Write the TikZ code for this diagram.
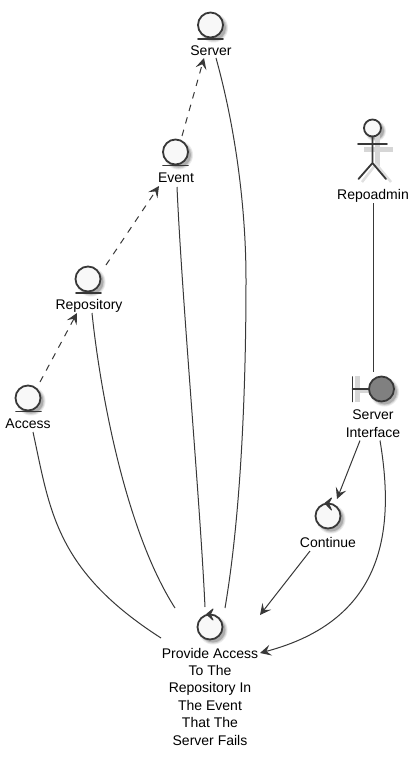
\documentclass[tikz,border=0pt]{standalone}
\usepackage{fontspec}
\setmainfont{Liberation Sans}
\usetikzlibrary{arrows.meta,shapes.geometric}
\definecolor{ink}{HTML}{383838}
\definecolor{paper}{HTML}{F8F8F8}
\definecolor{bfill}{HTML}{808080}
\tikzset{
  x=1pt,y=-1pt,
  caption/.style={font=\fontsize{14}{17.4}\selectfont,text=black,inner sep=0pt,align=center},
  disc/.style={circle,draw=ink,line width=1.8pt,fill=paper,minimum size=25pt,inner sep=0pt},
  darkdisc/.style={disc,fill=bfill},
  glyph/.style={draw=ink,line width=1.8pt,line cap=round,line join=round},
  turnhead/.style={draw=ink,fill=ink,line width=1pt,line join=round},
  link/.style={draw=ink,line width=1pt},
  depends/.style={link,dash pattern=on 6.5pt off 6.5pt,-{Stealth[length=11pt,width=11pt,inset=4.5pt]}},
  flow/.style={link,-{Stealth[length=11pt,width=11pt,inset=4.5pt]}},
}
\newcommand{\softshadow}[3]{%
  \pgfmathsetmacro{\shx}{#1+3}\pgfmathsetmacro{\shy}{#2+3}%
  \pgfmathsetmacro{\shra}{#3+2}\pgfmathsetmacro{\shrb}{#3+1}\pgfmathsetmacro{\shrc}{#3}%
  \fill[black!8] (\shx,\shy) circle[radius=\shra pt];
  \fill[black!18] (\shx,\shy) circle[radius=\shrb pt];
  \fill[black!32] (\shx,\shy) circle[radius=\shrc pt];
}
\begin{document}
\begin{tikzpicture}
\useasboundingbox (0,0) rectangle (419,757);
\fill[white] (0,0) rectangle (419,757);

% shadows
\softshadow{210.5}{25}{12.5}
\softshadow{175.5}{152}{12.5}
\softshadow{88}{279}{12.5}
\softshadow{28}{398}{12.5}
\softshadow{381.5}{389}{12.5}
\softshadow{328}{516}{12.5}
\softshadow{210}{627}{12.5}
\softshadow{372.5}{128}{8.5}
\fill[black!16] (364,146.5) rectangle (393,151.5);
\fill[black!16] (374.5,132) rectangle (379.5,166);
\fill[black!16] (354.5,376) rectangle (360,402);
\fill[black!16] (358,388) rectangle (372,393);
\draw[black!12,line width=2.5pt] (362,182) -- (376,164) -- (391,182);

% entities
\node[disc] (serverI) at (210.5,25) {};
\draw[glyph] (198,38.7) -- (223,38.7);
\node[caption] (server) at (211,51) {Server};
\node[disc] (eventI) at (175.5,152) {};
\draw[glyph] (163,165.5) -- (188,165.5);
\node[caption] (event) at (176,178) {Event};
\node[disc] (repoI) at (88,279) {};
\draw[glyph] (76,293) -- (101,293);
\node[caption] (repo) at (89,306) {Repository};
\node[disc] (accessI) at (28,398) {};
\draw[glyph] (16,411.5) -- (41,411.5);
\node[caption] (access) at (28,424) {Access};

% actor
\node[disc,minimum size=17pt] (adminI) at (372.5,128) {};
\draw[glyph] (372.5,136.5) -- (372.5,163)
  (358,144) -- (387,144)
  (358.5,179) -- (372.5,163) -- (386,179);
\node[caption] (admin) at (373,196) {Repoadmin};

% boundary
\draw[glyph] (352.5,377) -- (352.5,401.5) (352.5,389) -- (369.5,389);
\node[darkdisc] (ifaceI) at (381.5,389) {};
\node[caption] (iface) at (373,423.5) {Server\\Interface};

% controls
\node[disc] (contI) at (328,516) {};
\draw[turnhead] (325,503.2) -- (331.5,498) -- (328.5,503.5) -- (331.5,510) -- cycle;
\node[caption] (cont) at (328,542) {Continue};
\node[disc] (provI) at (210,627) {};
\draw[turnhead] (206.7,614.2) -- (213,609) -- (210.2,614.5) -- (213,620) -- cycle;
\node[caption] (prov) at (210,696.5) {Provide Access\\To The\\Repository In\\The Event\\That The\\Server Fails};

% connectors
\draw[depends] ([shift={(12,-42)}]access.center) -- ([shift={(-12,7)}]repo.center);
\draw[depends] ([shift={(17,-41)}]repo.center) -- ([shift={(-17,8)}]event.center);
\draw[depends] ([shift={(6,-42)}]event.center) -- ([shift={(-7,7)}]server.center);
\draw[link] ([shift={(5,7)}]server.center) .. controls (236,130) and (246,210) .. (246,280)
  .. controls (246,400) and (240,520) .. ([shift={(15,-19)}]provI.center);
\draw[link] ([shift={(1,9)}]event.center) .. controls (182,300) and (200,500) .. ([shift={(-5,-20)}]provI.center);
\draw[link] ([shift={(3,7)}]repo.center) .. controls (100,390) and (125,530) .. ([shift={(-35,-19)}]provI.center);
\draw[link] ([shift={(5,8)}]access.center) .. controls (50,510) and (55,570) .. ([shift={(-49,11)}]provI.center);
\draw[link] ([shift={(0,7)}]admin.center) -- ([shift={(-8.5,-17)}]ifaceI.center);
\draw[flow] ([shift={(-13,17)}]iface.center) -- ([shift={(9,-17)}]contI.center);
\draw[flow] ([shift={(7,17)}]iface.center) .. controls (395,530) and (385,620) .. ([shift={(50,-43.5)}]prov.center);
\draw[flow] ([shift={(-18,9)}]cont.center) -- ([shift={(50,-12)}]provI.center);
\end{tikzpicture}
\end{document}
